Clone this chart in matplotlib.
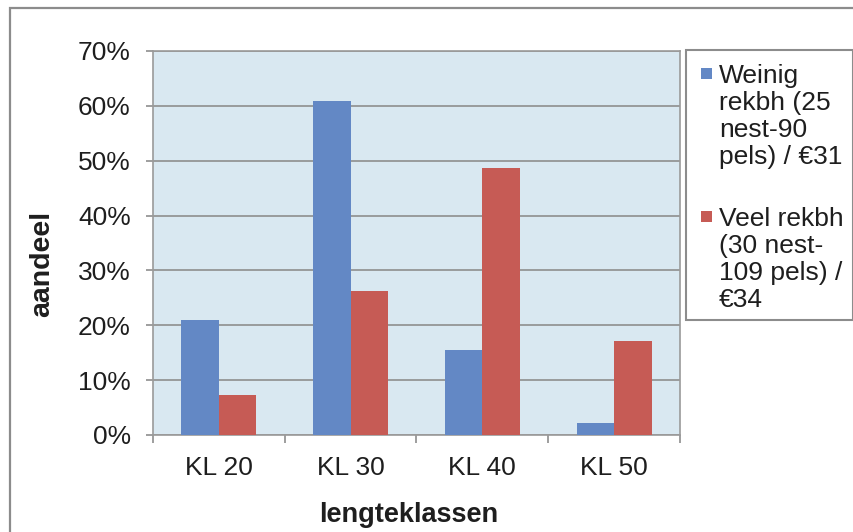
import matplotlib
matplotlib.use("Agg")
import matplotlib.pyplot as plt
from matplotlib.patches import Rectangle
import numpy as np

plt.rcParams['font.family'] = ['Liberation Sans', 'DejaVu Sans']

categories = ["KL 20", "KL 30", "KL 40", "KL 50"]
weinig = [21.0, 60.9, 15.5, 2.2]
veel = [7.3, 26.3, 48.7, 17.1]
series_labels = ["Weinig\nrekbh (25\nnest-90\npels) / €31",
                 "Veel rekbh\n(30 nest-\n109 pels) /\n€34"]
yticks = [0, 10, 20, 30, 40, 50, 60, 70]

W, H = 854, 532
FS = 19
TXT = "#1e1e1e"
fig = plt.figure(figsize=(W / 100, H / 100), dpi=100)
fig.patch.set_facecolor("white")

def fx(px):
    return px / W

def fy(py):
    return 1 - py / H

# outer chart frame
fig.patches.append(Rectangle((fx(10), -0.1), 1.2, fy(8) + 0.1,
                             transform=fig.transFigure, fill=False,
                             edgecolor="#8c8c8c", linewidth=1.6))

ax = fig.add_axes([fx(153), fy(435), fx(680 - 153), (435 - 51) / H])
ax.set_facecolor("#d9e8f1")

blue = "#6388c5"
red = "#c65b55"
x = np.arange(len(categories))
bw = 0.285
ax.bar(x - bw / 2, weinig, bw, color=blue, zorder=3)
ax.bar(x + bw / 2, veel, bw, color=red, zorder=3)

ax.set_xlim(-0.5, len(categories) - 0.5)
ax.set_ylim(0, 70)
ax.set_yticks(yticks)
ax.set_yticklabels([f"{t}%" for t in yticks], fontsize=FS, color=TXT)
ax.yaxis.grid(True, color="#8e8e8e", linewidth=1.2, zorder=1)
ax.set_axisbelow(True)

ax.set_xticks(x)
ax.set_xticklabels(categories, fontsize=FS, color=TXT)
ax.tick_params(axis="x", length=0, pad=15)
ax.set_xticks(np.arange(-0.5, len(categories)), minor=True)
ax.tick_params(axis="x", which="minor", length=6, color="#8e8e8e", width=1.2)
ax.tick_params(axis="y", length=5, color="#8e8e8e", width=1.2, pad=11)

for side in ["left", "bottom", "right", "top"]:
    ax.spines[side].set_color("#9a9a9a")
    ax.spines[side].set_linewidth(1.2)

ax.set_ylabel("aandeel", fontsize=20.5, fontweight="bold", color=TXT,
              va="center")
ax.yaxis.set_label_coords((42 - 153) / 527, (435 - 264) / 384)
ax.set_xlabel("lengteklassen", fontsize=19.5, fontweight="bold", color=TXT,
              va="center")
ax.xaxis.set_label_coords((409 - 153) / 527, (435 - 515) / 384)

# legend box with its entries
fig.patches.append(Rectangle((fx(686), fy(320)), fx(853 - 686), (320 - 50) / H,
                             transform=fig.transFigure, facecolor="white",
                             edgecolor="#8c8c8c", linewidth=1.5))
entry_tops = [64, 207]
for label, color, top in zip(series_labels, [blue, red], entry_tops):
    fig.patches.append(Rectangle((fx(701), fy(top + 15)), fx(11), 11 / H,
                                 transform=fig.transFigure, facecolor=color,
                                 edgecolor="none"))
    fig.text(fx(719), fy(top), label, fontsize=FS, color=TXT, va="top",
             ha="left", linespacing=1.15)

fig.savefig("out.png", dpi=100, facecolor="white")
